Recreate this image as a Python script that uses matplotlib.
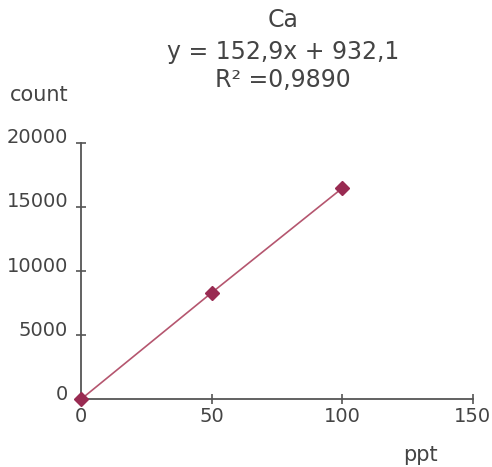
import matplotlib
matplotlib.use('Agg')
import matplotlib.pyplot as plt
from matplotlib.transforms import ScaledTranslation

# ── Datos ───────────────────────────────────────────────────────────────────
ppt    = [0, 50, 100]
counts = [0, 8300, 16450]

x_ticks = [0, 50, 100, 150]
y_ticks = [0, 5000, 10000, 15000, 20000]

TITLE    = "Ca"
EQUATION = "y = 152,9x + 932,1"
R2_TEXT  = "R² =0,9890"

TXT   = '#444444'
AXIS  = '#555555'
MARK  = '#992B52'
LINE  = '#B5566F'

plt.rcParams['font.family'] = ['DejaVu Sans']

fig = plt.figure(figsize=(4.92, 4.67), dpi=100)
ax = fig.add_axes([0.1646, 0.145, 0.7962, 0.5494])

ax.plot(ppt, counts, color=LINE, linewidth=1.2, zorder=2, clip_on=False)
ax.plot(ppt, counts, linestyle='none', marker='D', markersize=7,
        color=MARK, zorder=3, clip_on=False)

ax.set_xlim(0, 150)
ax.set_ylim(0, 20000)
ax.set_xticks(x_ticks)
ax.set_yticks(y_ticks)

for side in ('top', 'right'):
    ax.spines[side].set_visible(False)
for side in ('left', 'bottom'):
    ax.spines[side].set_color(AXIS)
    ax.spines[side].set_linewidth(1.3)

ax.tick_params(axis='both', direction='inout', length=6.5, width=1.2,
               color=AXIS, labelcolor=TXT, labelsize=14)
ax.tick_params(axis='x', pad=2)
ax.tick_params(axis='y', pad=6)

# etiquetas del eje y un poco por encima de la marca
off = ScaledTranslation(0, 0.07, fig.dpi_scale_trans)
for lab in ax.get_yticklabels():
    lab.set_transform(lab.get_transform() + off)

fig.text(0.575, 0.957, TITLE, ha='center', va='center', fontsize=17, color=TXT)
fig.text(0.575, 0.889, EQUATION, ha='center', va='center', fontsize=17, color=TXT)
fig.text(0.575, 0.829, R2_TEXT, ha='center', va='center', fontsize=17, color=TXT)
fig.text(0.02, 0.797, 'count', ha='left', va='center', fontsize=15, color=TXT)
fig.text(0.854, 0.026, 'ppt', ha='center', va='center', fontsize=15, color=TXT)

plt.savefig('out.png', dpi=100)
plt.close()
